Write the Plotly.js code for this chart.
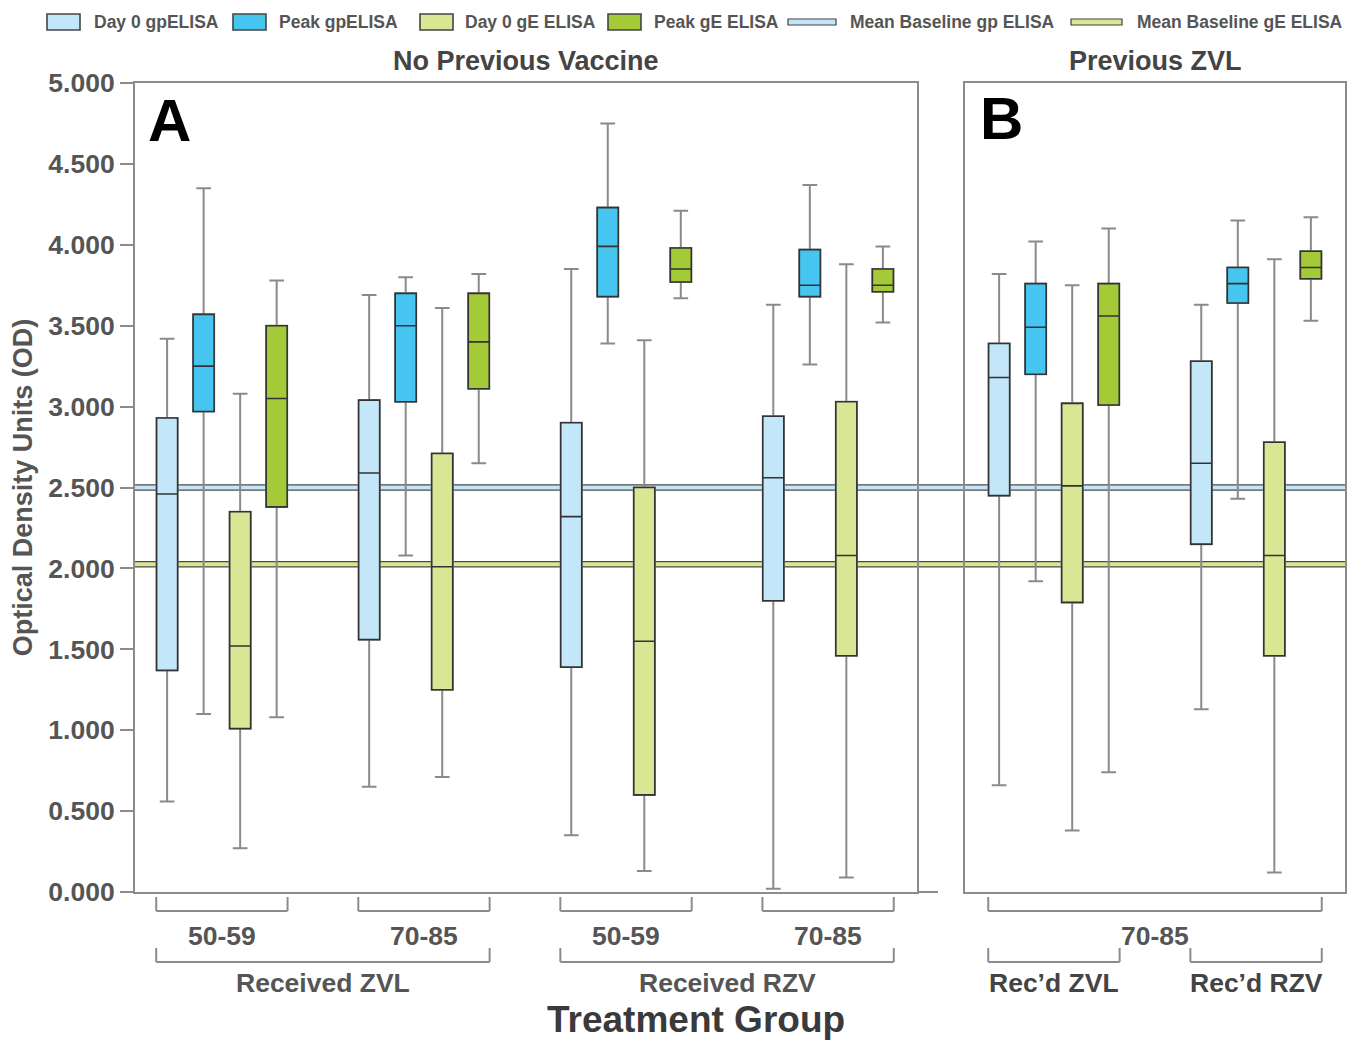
<!DOCTYPE html>
<html><head><meta charset="utf-8">
<script src="https://cdn.plot.ly/plotly-3.0.1.min.js"></script>
<style>html,body{margin:0;padding:0;background:#fff}</style>
</head><body><div id="chart" style="width:1347px;height:1041px"></div>
<script>
// ---------------- DATA ----------------
const seriesNames = ['Day 0 gpELISA', 'Peak gpELISA', 'Day 0 gE ELISA', 'Peak gE ELISA'];
const baselineNames = ['Mean Baseline gp ELISA', 'Mean Baseline gE ELISA'];
const groupsA = ['ZVL 50-59', 'ZVL 70-85', 'RZV 50-59', 'RZV 70-85'];
const groupsB = ['Prev ZVL, Rec\u2019d ZVL', 'Prev ZVL, Rec\u2019d RZV'];
const ageLabelsA = ['50-59', '70-85', '50-59', '70-85'];
const vaccineLabelsA = ['Received ZVL', 'Received RZV'];
const ageLabelB = '70-85';
const vaccineLabelsB = ['Rec\u2019d ZVL', 'Rec\u2019d RZV'];
const panelTitles = ['No Previous Vaccine', 'Previous ZVL'];
const panelLetters = ['A', 'B'];
const yTickValues = [0, 0.5, 1, 1.5, 2, 2.5, 3, 3.5, 4, 4.5, 5];

// rows = series (Day0 gp, Peak gp, Day0 gE, Peak gE); columns = groups
const lowerA  = [[0.56, 0.65, 0.35, 0.02], [1.10, 2.08, 3.39, 3.26], [0.27, 0.71, 0.13, 0.09], [1.08, 2.65, 3.67, 3.52]];
const q1A     = [[1.37, 1.56, 1.39, 1.80], [2.97, 3.03, 3.68, 3.68], [1.01, 1.25, 0.60, 1.46], [2.38, 3.11, 3.77, 3.71]];
const medianA = [[2.46, 2.59, 2.32, 2.56], [3.25, 3.50, 3.99, 3.75], [1.52, 2.01, 1.55, 2.08], [3.05, 3.40, 3.85, 3.75]];
const q3A     = [[2.93, 3.04, 2.90, 2.94], [3.57, 3.70, 4.23, 3.97], [2.35, 2.71, 2.50, 3.03], [3.50, 3.70, 3.98, 3.85]];
const upperA  = [[3.42, 3.69, 3.85, 3.63], [4.35, 3.80, 4.75, 4.37], [3.08, 3.61, 3.41, 3.88], [3.78, 3.82, 4.21, 3.99]];

const lowerB  = [[0.66, 1.13], [1.92, 2.43], [0.38, 0.12], [0.74, 3.53]];
const q1B     = [[2.45, 2.15], [3.20, 3.64], [1.79, 1.46], [3.01, 3.79]];
const medianB = [[3.18, 2.65], [3.49, 3.76], [2.51, 2.08], [3.56, 3.86]];
const q3B     = [[3.39, 3.28], [3.76, 3.86], [3.02, 2.78], [3.76, 3.96]];
const upperB  = [[3.82, 3.63], [4.02, 4.15], [3.75, 3.91], [4.10, 4.17]];

const meanBaselineGp = 2.50;
const meanBaselineGe = 2.025;

// ---------------- STYLE ----------------
const W = 1347, H = 1041;
const fillColors = ['#c3e7f8', '#45c5ef', '#d9e795', '#a5ca38'];
const outline = '#333333';
const whiskerColor = '#8a8a8a';
const frameColor = '#8c8c8c';
const textColor = '#555555';
const darkText = '#444444';
const FONT = 'Liberation Sans, Arial, Helvetica, sans-serif';
const px = p => p / W;          // pixel -> paper x
const py = p => 1 - p / H;      // pixel -> paper y
const domA = [px(135), px(917)];
const domB = [px(965), px(1345)];
const domY = [py(892), py(83)];

const traces = [];
function addPanel(layer, groups, lo, q1, med, q3, hi, xa, ya, ag) {
  for (let s = 0; s < seriesNames.length; s++) {
    const base = {
      type: 'box', name: seriesNames[s], x: groups,
      q1: q1[s], median: med[s], q3: q3[s],
      xaxis: xa, yaxis: ya, offsetgroup: 'g' + s, alignmentgroup: ag,
      boxpoints: false, showlegend: false, hoverinfo: 'skip'
    };
    if (layer === 'whisker') {
      Object.assign(base, {lowerfence: lo[s], upperfence: hi[s],
        fillcolor: 'rgba(0,0,0,0)', line: {color: whiskerColor, width: 2}, whiskerwidth: 0.7});
    } else {
      Object.assign(base, {lowerfence: q1[s], upperfence: q3[s],
        fillcolor: fillColors[s], line: {color: outline, width: 1.6}, whiskerwidth: 0});
    }
    traces.push(base);
  }
}
['whisker', 'box'].forEach(layer => {
  addPanel(layer, groupsA, lowerA, q1A, medianA, q3A, upperA, 'x', 'y', 'A');
  addPanel(layer, groupsB, lowerB, q1B, medianB, q3B, upperB, 'x2', 'y2', 'B');
});

const shapes = [];
const annotations = [];
// mean baseline bands across both panels
[[meanBaselineGp, fillColors[0]], [meanBaselineGe, fillColors[2]]].forEach(([v, c]) => {
  shapes.push({type: 'line', layer: 'below', xref: 'paper', yref: 'y', x0: domA[0], x1: domB[1], y0: v, y1: v,
    line: {color: '#4a4a4a', width: 6.5}});
  shapes.push({type: 'line', layer: 'below', xref: 'paper', yref: 'y', x0: domA[0], x1: domB[1], y0: v, y1: v,
    line: {color: c, width: 4}});
});
// bottom axis extension of panel A
shapes.push({type: 'line', xref: 'paper', yref: 'paper', x0: domA[1], x1: px(938), y0: domY[0], y1: domY[0],
  line: {color: frameColor, width: 2}});

// brackets
const HALF = 0.325;
function bracket(xref, a, b, yTop, yBot) {
  const ln = {color: frameColor, width: 2};
  shapes.push({type: 'line', xref, yref: 'paper', x0: a, x1: a, y0: py(yTop), y1: py(yBot), line: ln});
  shapes.push({type: 'line', xref, yref: 'paper', x0: b, x1: b, y0: py(yTop), y1: py(yBot), line: ln});
  shapes.push({type: 'line', xref, yref: 'paper', x0: a, x1: b, y0: py(yBot), y1: py(yBot), line: ln});
}
function label(xref, x, yPix, text, size, color) {
  annotations.push({xref, yref: 'paper', x, y: py(yPix), text, showarrow: false, xanchor: 'center', yanchor: 'middle',
    font: {family: FONT, size, color, weight: 'bold'}});
}
groupsA.forEach((g, i) => { bracket('x', i - HALF, i + HALF, 897, 911); label('x', i, 936, ageLabelsA[i], 26.5, textColor); });
vaccineLabelsA.forEach((t, k) => { bracket('x', 2 * k - HALF, 2 * k + 1 + HALF, 948, 962); label('x', 2 * k + 0.5, 983, t, 26.5, textColor); });
bracket('x2', -HALF, 1 + HALF, 897, 911); label('x2', 0.5, 936, ageLabelB, 26.5, textColor);
vaccineLabelsB.forEach((t, k) => { bracket('x2', k - HALF, k + HALF, 948, 962); label('x2', k, 983, t, 26.5, darkText); });

// panel titles and letters
annotations.push({xref: 'x domain', yref: 'paper', x: 0.5, y: py(61), text: panelTitles[0], showarrow: false, yanchor: 'middle',
  font: {family: FONT, size: 27, color: darkText, weight: 'bold'}});
annotations.push({xref: 'x2 domain', yref: 'paper', x: 0.5, y: py(61), text: panelTitles[1], showarrow: false, yanchor: 'middle',
  font: {family: FONT, size: 27, color: darkText, weight: 'bold'}});
annotations.push({xref: 'paper', yref: 'paper', x: px(146), y: py(120), text: panelLetters[0], showarrow: false, xanchor: 'left', yanchor: 'middle',
  font: {family: FONT, size: 60, color: '#000', weight: 'bold'}});
annotations.push({xref: 'paper', yref: 'paper', x: px(978), y: py(119), text: panelLetters[1], showarrow: false, xanchor: 'left', yanchor: 'middle',
  font: {family: FONT, size: 60, color: '#000', weight: 'bold'}});
// x title
annotations.push({xref: 'paper', yref: 'paper', x: px(696), y: py(1019), text: 'Treatment Group', showarrow: false, yanchor: 'middle',
  font: {family: FONT, size: 37, color: '#3a3a3a', weight: 'bold'}});

// legend (manual, top row)
const legSwatchX = [47, 233, 420, 608];
const legTextX = [92, 277, 463, 652];
const legLineX = [[788, 836], [1071, 1122]];
const legLineTextX = [848, 1135];
const legFont = {family: FONT, size: 17.5, color: textColor, weight: 'bold'};
seriesNames.forEach((n, i) => {
  shapes.push({type: 'rect', xref: 'paper', yref: 'paper', x0: px(legSwatchX[i]), x1: px(legSwatchX[i] + 33), y0: py(30), y1: py(14),
    fillcolor: fillColors[i], line: {color: '#444', width: 1.6}});
  annotations.push({xref: 'paper', yref: 'paper', x: px(legTextX[i]), y: py(22), text: n, showarrow: false, xanchor: 'left', yanchor: 'middle', font: legFont});
});
baselineNames.forEach((n, i) => {
  shapes.push({type: 'rect', xref: 'paper', yref: 'paper', x0: px(legLineX[i][0]), x1: px(legLineX[i][1]), y0: py(25), y1: py(19),
    fillcolor: fillColors[i * 2], line: {color: '#444', width: 1.2}});
  annotations.push({xref: 'paper', yref: 'paper', x: px(legLineTextX[i]), y: py(22), text: n, showarrow: false, xanchor: 'left', yanchor: 'middle', font: legFont});
});

const axFont = {family: FONT, size: 26.5, color: textColor, weight: 'bold'};
const layout = {
  width: W, height: H, margin: {l: 0, r: 0, t: 0, b: 0},
  paper_bgcolor: '#fff', plot_bgcolor: '#fff', showlegend: false,
  boxmode: 'group', boxgap: 0.277, boxgroupgap: 0.425,
  xaxis: {domain: domA, type: 'category', range: [-0.43, 3.44], showticklabels: false, ticks: '',
    showline: true, mirror: true, linecolor: frameColor, linewidth: 2, showgrid: false, zeroline: false, fixedrange: true},
  xaxis2: {domain: domB, type: 'category', range: [-0.44, 1.44], showticklabels: false, ticks: '', anchor: 'y2',
    showline: true, mirror: true, linecolor: frameColor, linewidth: 2, showgrid: false, zeroline: false, fixedrange: true},
  yaxis: {domain: domY, range: [0, 5], tickvals: yTickValues, tickformat: '.3f', ticks: 'outside', ticklen: 13, tickwidth: 2,
    tickcolor: frameColor, tickfont: axFont, showline: true, mirror: true, linecolor: frameColor, linewidth: 2,
    showgrid: false, zeroline: false,
    title: {text: 'Optical Density Units (OD)', font: {family: FONT, size: 27, color: textColor, weight: 'bold'}, standoff: 8}},
  yaxis2: {domain: domY, matches: 'y', anchor: 'x2', range: [0, 5], showticklabels: false, ticks: '',
    showline: true, mirror: true, linecolor: frameColor, linewidth: 2, showgrid: false, zeroline: false},
  shapes, annotations
};
Plotly.newPlot('chart', traces, layout, {staticPlot: true, displayModeBar: false});
</script></body></html>
